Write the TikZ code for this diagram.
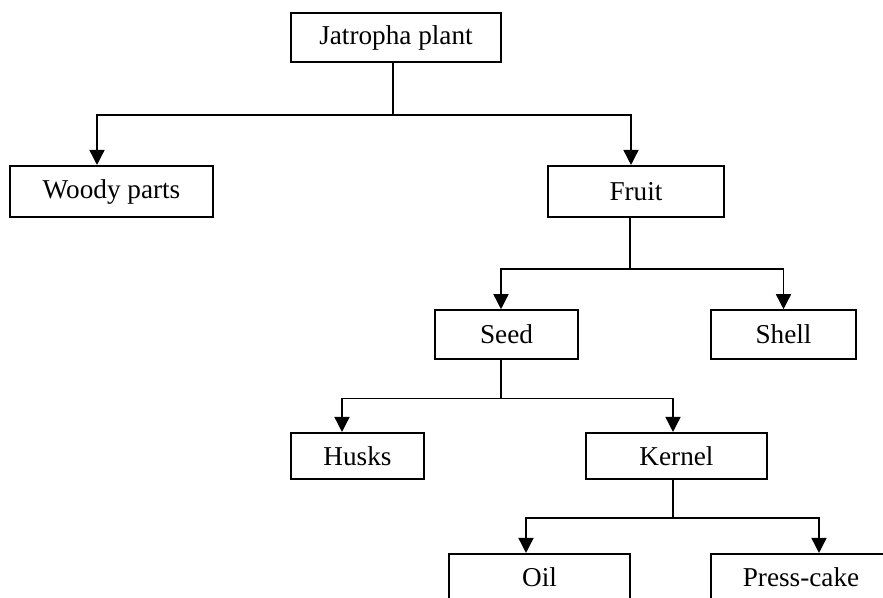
\documentclass[tikz,border=0pt]{standalone}
\usepackage{fontspec}
\setmainfont{Liberation Serif}
\usepackage{tikz}
\usetikzlibrary{arrows.meta, positioning, calc}
\tikzset{
  part/.style={rectangle, draw=black, line width=0.85pt, inner sep=0pt,
    minimum height=0.78cm, text centered, font=\fontsize{12.4}{14}\selectfont},
  link/.style={line width=0.7pt, color=black},
  arr/.style={-{Triangle[length=0.24cm, width=0.24cm]}, line width=0.7pt, color=black},
}
\begin{document}
\begin{tikzpicture}[x=0.016cm, y=-0.016cm]
  \useasboundingbox (0,0) rectangle (883,597);
  % boxes
  \node[part, minimum width=3.36cm] (plant) at (396,37.5) {Jatropha plant};
  \node[part, minimum width=3.25cm, minimum height=0.82cm] (woody) at (111.5,191.5) {Woody parts};
  \node[part, minimum width=2.82cm, minimum height=0.82cm] (fruit) at (636,191.5) {Fruit};
  \node[part, minimum width=2.29cm] (seed) at (506.5,334.5) {Seed};
  \node[part, minimum width=2.32cm] (shell) at (783.5,334.5) {Shell};
  \node[part, minimum width=2.13cm, minimum height=0.74cm] (husks) at (357.5,456) {Husks};
  \node[part, minimum width=2.90cm, minimum height=0.74cm] (kernel) at (676.5,456) {Kernel};
  \node[part, minimum width=2.90cm, minimum height=0.74cm] (oil) at (539.5,577) {Oil};
  \node[part, minimum width=2.88cm, minimum height=0.74cm] (cake) at (801,577) {Press-cake};
  % branch points
  \coordinate (b1) at (393,115);
  \coordinate (b2) at (630,269);
  \coordinate (b3) at (501,398.5);
  \coordinate (b4) at (673,518);
  % connectors
  \draw[link] (plant.south -| b1) -- (b1);
  \draw[arr] (b1) -| ($(woody.north)+(-14.5,0)$);
  \draw[arr] (b1) -| ($(fruit.north)+(-5,0)$);
  \draw[link] (fruit.south -| b2) -- (b2);
  \draw[arr] (b2) -| ($(seed.north)+(-5.5,0)$);
  \draw[arr] (b2) -| (shell.north);
  \draw[link] (seed.south -| b3) -- (b3);
  \draw[arr] (b3) -| ($(husks.north)+(-15.5,0)$);
  \draw[arr] (b3) -| ($(kernel.north)+(-3.5,0)$);
  \draw[link] (kernel.south -| b4) -- (b4);
  \draw[arr] (b4) -| ($(oil.north)+(-13.5,0)$);
  \draw[arr] (b4) -| ($(cake.north)+(18,0)$);
\end{tikzpicture}
\end{document}
